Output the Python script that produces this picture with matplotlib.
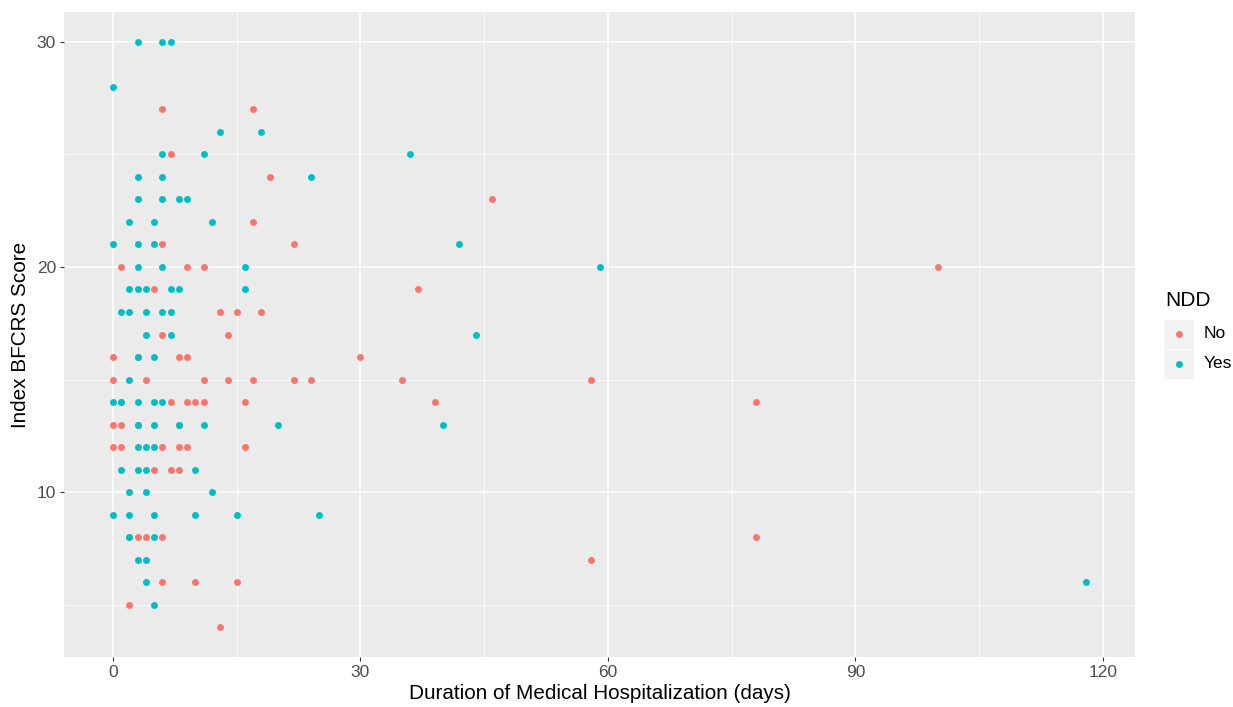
import numpy as np
import matplotlib
matplotlib.use("Agg")
import matplotlib.pyplot as plt

plt.rcParams['font.family'] = ['Liberation Sans', 'DejaVu Sans']

# NDD = No
no_days = [6, 17, 7, 19, 46, 17, 6, 22, 1, 9, 11, 100, 5, 37, 13, 15, 18, 6, 14,
           0, 3, 8, 9, 30, 0, 4, 11, 14, 17, 22, 24, 35, 58, 1, 7, 9, 10, 11, 16,
           39, 78, 0, 1, 3, 8, 0, 1, 6, 8, 9, 16, 5, 7, 8, 2, 3, 4, 6, 78, 58, 6,
           10, 15, 2, 13]
no_score = [27, 27, 25, 24, 23, 22, 21, 21, 20, 20, 20, 20, 19, 19, 18, 18, 18, 17, 17,
            16, 16, 16, 16, 16, 15, 15, 15, 15, 15, 15, 15, 15, 15, 14, 14, 14, 14, 14, 14,
            14, 14, 13, 13, 13, 13, 12, 12, 12, 12, 12, 12, 11, 11, 11, 8, 8, 8, 8, 8, 7, 6,
            6, 6, 5, 4]

# NDD = Yes
yes_days = [3, 6, 7, 0, 13, 18, 6, 11, 36, 3, 6, 24, 3, 6, 8, 9, 2, 5, 12, 0, 3, 5,
            42, 3, 6, 16, 59, 2, 3, 4, 7, 8, 16, 1, 2, 4, 6, 7, 4, 7, 44, 3, 5, 2,
            0, 1, 3, 5, 6, 3, 5, 8, 11, 20, 40, 3, 4, 5, 1, 3, 4, 10, 2, 4, 12, 0,
            2, 5, 10, 15, 25, 2, 5, 3, 4, 4, 118, 5]
yes_score = [30, 30, 30, 28, 26, 26, 25, 25, 25, 24, 24, 24, 23, 23, 23, 23, 22, 22, 22, 21, 21, 21,
             21, 20, 20, 20, 20, 19, 19, 19, 19, 19, 19, 18, 18, 18, 18, 18, 17, 17, 17, 16, 16, 15,
             14, 14, 14, 14, 14, 13, 13, 13, 13, 13, 13, 12, 12, 12, 11, 11, 11, 11, 10, 10, 10, 9,
             9, 9, 9, 9, 9, 8, 8, 7, 7, 6, 6, 5]

groups = ["No", "Yes"]
colors = ["#F8766D", "#00BFC4"]
pt_size = 25

W, H = 1233, 707
fig = plt.figure(figsize=(W / 100, H / 100), dpi=100)
ax = fig.add_axes([64.3 / W, 1 - 656.7 / H, (1135 - 64.3) / W, (656.7 - 12.3) / H])
ax.set_facecolor("#EBEBEB")

ax.scatter(no_days, no_score, s=pt_size, color=colors[0], linewidths=0, zorder=3)
ax.scatter(yes_days, yes_score, s=pt_size, color=colors[1], linewidths=0, zorder=3)

ax.set_xlim(-5.9, 123.9)
ax.set_ylim(2.7, 31.3)
ax.set_xticks([0, 30, 60, 90, 120])
ax.set_xticks([15, 45, 75, 105], minor=True)
ax.set_yticks([10, 20, 30])
ax.set_yticks([5, 15, 25], minor=True)
ax.grid(which="major", color="white", linewidth=1.1, zorder=1)
ax.grid(which="minor", color="white", linewidth=0.55, zorder=1)
ax.set_axisbelow(True)
for s in ax.spines.values():
    s.set_visible(False)
ax.tick_params(which="major", length=3, width=0.8, color="#333333",
               labelsize=12.5, labelcolor="#4D4D4D", pad=3)
ax.tick_params(which="minor", length=0)

ax.set_xlabel("Duration of Medical Hospitalization (days)", fontsize=14.9, labelpad=3)
ax.set_ylabel("Index BFCRS Score", fontsize=14.9, labelpad=5)

# legend (drawn by hand, ggplot style)
fig.text(1165 / W, 1 - 300 / H, "NDD", fontsize=15, ha="left", va="center")
for i, g in enumerate(groups):
    y0 = 319 + i * 30
    kax = fig.add_axes([1164 / W, 1 - (y0 + 30) / H, 30 / W, 30 / H])
    kax.set_facecolor("#F2F2F2")
    kax.set_xlim(0, 1)
    kax.set_ylim(0, 1)
    kax.set_xticks([])
    kax.set_yticks([])
    for s in kax.spines.values():
        s.set_color("white")
        s.set_linewidth(0.5)
    kax.scatter([0.5], [0.5], s=pt_size, color=colors[i], linewidths=0)
    fig.text(1204 / W, 1 - (y0 + 15) / H, g, fontsize=12.5, ha="left", va="center")

fig.savefig("out.png", dpi=100)
